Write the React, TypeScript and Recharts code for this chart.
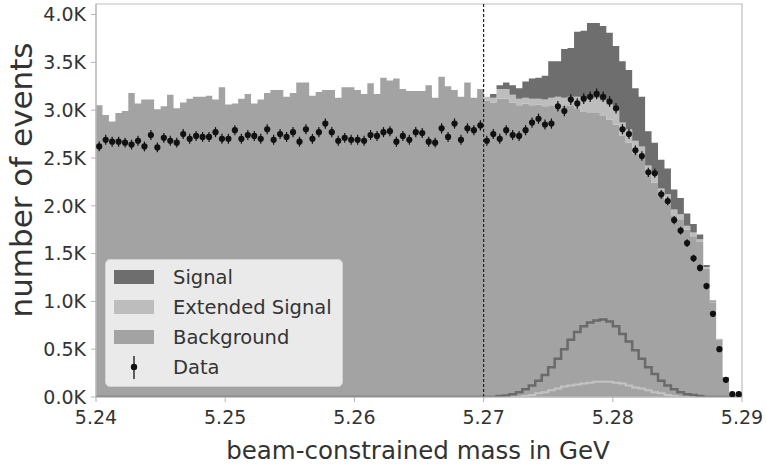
import {
  ComposedChart,
  Area,
  Line,
  Scatter,
  ErrorBar,
  XAxis,
  YAxis,
  ReferenceLine,
  ReferenceArea,
  Legend,
  Label,
} from 'recharts'

// 100 bins of 0.5 MeV from 5.24 to 5.29 GeV
const binStart = 5.24
const binWidth = 0.0005
const xTicks = [5.24, 5.25, 5.26, 5.27, 5.28, 5.29]
const yTicks = [0, 500, 1000, 1500, 2000, 2500, 3000, 3500, 4000]

// stacked MC components (events per bin)
const background = [
  3050, 2950, 2880, 2970, 2990, 3180, 3070, 3110, 3110, 3010,
  3040, 3160, 3020, 3080, 3120, 3140, 3140, 3150, 3110, 3240,
  3060, 3070, 3120, 3170, 3070, 3110, 3180, 3210, 3210, 3140,
  3180, 3290, 3290, 3150, 3190, 3210, 3210, 3130, 3240, 3240,
  3210, 3170, 3280, 3170, 3340, 3310, 3330, 3220, 3200, 3200,
  3200, 3260, 3130, 3350, 3250, 3210, 3140, 3290, 3130, 3220,
  3100, 3080, 3120, 3120, 3080, 3050, 3070, 3050, 3060, 3040,
  3050, 3020, 3050, 3050, 3020, 2980, 2970, 2970, 2940, 2900,
  2850, 2730, 2660, 2550, 2500, 2320, 2240, 2100, 2050, 1900,
  1860, 1750, 1680, 1620, 1340, 990, 600, 210, 30, 20,
]
const extendedSignal = [
  0, 0, 0, 0, 0, 0, 0, 0, 0, 0, 0, 0, 0, 0, 0, 0, 0, 0, 0, 0,
  0, 0, 0, 0, 0, 0, 0, 0, 0, 0, 0, 0, 0, 0, 0, 0, 0, 0, 0, 0,
  0, 0, 0, 0, 0, 0, 0, 0, 0, 0, 0, 0, 0, 0, 0, 0, 0, 0, 0, 0,
  40, 50, 100, 100, 80, 70, 60, 70, 60, 70,
  80, 120, 80, 90, 120, 140, 150, 160, 160, 160,
  150, 140, 140, 130, 120, 100, 90, 80, 70, 60,
  50, 40, 40, 30, 20, 10, 10, 0, 0, 0,
]
const signal = [
  0, 0, 0, 0, 0, 0, 0, 0, 0, 0, 0, 0, 0, 0, 0, 0, 0, 0, 0, 0,
  0, 0, 0, 0, 0, 0, 0, 0, 0, 0, 0, 0, 0, 0, 0, 0, 0, 0, 0, 0,
  0, 0, 0, 0, 0, 0, 0, 0, 0, 0, 0, 0, 0, 0, 0, 0, 0, 0, 0, 0,
  0, 40, 40, 70, 100, 110, 170, 210, 220, 250,
  380, 370, 510, 510, 680, 710, 790, 780, 780, 750,
  670, 640, 620, 550, 520, 360, 330, 300, 270, 210,
  170, 130, 90, 50, 20, 10, 0, 0, 0, 0,
]

// unstacked shapes drawn as step outlines
const signalShape = [
  0, 0, 0, 0, 0, 0, 0, 0, 0, 0, 0, 0, 0, 0, 0, 0, 0, 0, 0, 0,
  0, 0, 0, 0, 0, 0, 0, 0, 0, 0, 0, 0, 0, 0, 0, 0, 0, 0, 0, 0,
  0, 0, 0, 0, 0, 0, 0, 0, 0, 0, 0, 0, 0, 0, 0, 0, 0, 0, 0, 0,
  0, 0, 10, 15, 30, 50, 80, 120, 170, 230,
  310, 400, 500, 600, 680, 740, 780, 800, 810, 790,
  740, 660, 580, 490, 400, 310, 240, 170, 120, 80,
  50, 30, 20, 10, 0, 0, 0, 0, 0, 0,
]
const extendedShape = [
  0, 0, 0, 0, 0, 0, 0, 0, 0, 0, 0, 0, 0, 0, 0, 0, 0, 0, 0, 0,
  0, 0, 0, 0, 0, 0, 0, 0, 0, 0, 0, 0, 0, 0, 0, 0, 0, 0, 0, 0,
  0, 0, 0, 0, 0, 0, 0, 0, 0, 0, 0, 0, 0, 0, 0, 0, 0, 0, 0, 0,
  0, 0, 0, 0, 0, 0, 10, 20, 40, 50,
  70, 90, 110, 120, 130, 140, 150, 160, 160, 160,
  150, 140, 120, 100, 90, 70, 50, 40, 20, 10,
  0, 0, 0, 0, 0, 0, 0, 0, 0, 0,
]

// measured data
const observed = [
  2620, 2690, 2670, 2670, 2660, 2640, 2680, 2620, 2740, 2610,
  2710, 2680, 2660, 2750, 2700, 2730, 2720, 2720, 2770, 2700,
  2700, 2790, 2700, 2740, 2730, 2700, 2800, 2690, 2750, 2720,
  2770, 2670, 2800, 2700, 2770, 2860, 2770, 2680, 2710, 2690,
  2690, 2680, 2740, 2730, 2770, 2780, 2670, 2730, 2690, 2770,
  2760, 2670, 2660, 2810, 2720, 2860, 2690, 2810, 2790, 2840,
  2680, 2750, 2700, 2790, 2740, 2730, 2790, 2870, 2910, 2850,
  2860, 3040, 2990, 3110, 3070, 3120, 3140, 3170, 3140, 3090,
  3020, 2800, 2750, 2580, 2520, 2350, 2340, 2120, 2050, 1850,
  1740, 1610, 1450, 1350, 1160, 870, 500, 180, 30, 30,
]

const legendItems = [
  { name: 'Signal', color: '#6e6e6e' },
  { name: 'Extended Signal', color: '#bdbdbd' },
  { name: 'Background', color: '#a3a3a3' },
  { name: 'Data', color: '#111111' },
]

const edge = (i: number) => Number((binStart + i * binWidth).toFixed(4))

const histRows = background.map((b, i) => ({
  x: edge(i),
  background: b,
  extended: extendedSignal[i],
  signal: signal[i],
  signalShape: signalShape[i],
  extendedShape: extendedShape[i],
}))
// closing edge so the last step reaches 5.29
histRows.push({ ...histRows[histRows.length - 1], x: edge(background.length) })

const dataPoints = observed.map((n, i) => ({
  x: Number((binStart + (i + 0.5) * binWidth).toFixed(5)),
  y: n,
  err: Math.sqrt(n),
}))

const FONT = '"DejaVu Sans", sans-serif'

function LegendBox() {
  return (
    <div
      style={{
        width: 238,
        height: 128,
        boxSizing: 'border-box',
        background: 'rgba(238,238,238,0.95)',
        border: '1px solid #d2d2d2',
        borderRadius: 5,
        paddingTop: 2,
        fontFamily: FONT,
        fontSize: 19.5,
        color: '#333',
      }}
    >
      {legendItems.map(item => (
        <div key={item.name} style={{ display: 'flex', alignItems: 'center', height: 30 }}>
          {item.name === 'Data' ? (
            <svg width={40} height={30} style={{ marginLeft: 8 }}>
              <line x1={20} x2={20} y1={4} y2={27} stroke="#111" strokeWidth={1.3} />
              <circle cx={20} cy={15} r={3.2} fill="#111" />
            </svg>
          ) : (
            <div style={{ marginLeft: 8, width: 40, height: 14, background: item.color }} />
          )}
          <span style={{ marginLeft: 19 }}>{item.name}</span>
        </div>
      ))}
    </div>
  )
}

const renderDot = (props: any) => <circle cx={props.cx} cy={props.cy} r={3.1} fill="#111" />

export default function App() {
  return (
    <div style={{ position: 'absolute', left: 0, top: 0, background: '#fff' }}>
      <ComposedChart
        width={766}
        height={468}
        data={histRows}
        margin={{ top: 4, right: 24, left: 0, bottom: 0 }}
      >
        <XAxis
          dataKey="x"
          type="number"
          domain={[5.24, 5.29]}
          ticks={xTicks}
          tickFormatter={(v: number) => v.toFixed(2)}
          height={71}
          stroke="#b5b5b5"
          tickSize={5}
          tickMargin={9}
          tick={{ fill: '#333', fontSize: 19, fontFamily: FONT }}
          allowDataOverflow
        >
          <Label
            content={() => (
              <text x={418} y={459} textAnchor="middle" fill="#333" fontSize={24.5} fontFamily={FONT}>
                beam-constrained mass in GeV
              </text>
            )}
          />
        </XAxis>
        <YAxis
          type="number"
          domain={[0, 4110]}
          ticks={yTicks}
          tickFormatter={(v: number) => (v / 1000).toFixed(1) + 'K'}
          width={96}
          stroke="#b5b5b5"
          tickSize={5}
          tickMargin={5}
          tick={{ fill: '#333', fontSize: 19, fontFamily: FONT }}
          allowDataOverflow
        >
          <Label
            content={() => (
              <text
                x={32}
                y={180}
                transform="rotate(-90 32 180)"
                textAnchor="middle"
                fill="#333"
                fontSize={31}
                fontFamily={FONT}
              >
                number of events
              </text>
            )}
          />
        </YAxis>
        <Area
          type="stepAfter"
          dataKey="background"
          stackId="mc"
          fill="#a3a3a3"
          fillOpacity={1}
          stroke="none"
          isAnimationActive={false}
        />
        <Area
          type="stepAfter"
          dataKey="extended"
          stackId="mc"
          fill="#bdbdbd"
          fillOpacity={1}
          stroke="none"
          isAnimationActive={false}
        />
        <Area
          type="stepAfter"
          dataKey="signal"
          stackId="mc"
          fill="#6e6e6e"
          fillOpacity={1}
          stroke="none"
          isAnimationActive={false}
        />
        <Line
          type="stepAfter"
          dataKey="extendedShape"
          stroke="#c4c4c4"
          strokeWidth={2}
          dot={false}
          activeDot={false}
          isAnimationActive={false}
        />
        <Line
          type="stepAfter"
          dataKey="signalShape"
          stroke="#6a6a6a"
          strokeWidth={2.5}
          dot={false}
          activeDot={false}
          isAnimationActive={false}
        />
        <ReferenceLine x={5.27} stroke="#222" strokeWidth={1.2} strokeDasharray="3 2" />
        <ReferenceArea
          x1={5.24}
          x2={5.29}
          y1={0}
          y2={4110}
          fill="none"
          fillOpacity={0}
          stroke="#bdbdbd"
          strokeWidth={1.2}
        />
        <Scatter
          data={dataPoints}
          dataKey="y"
          shape={renderDot}
          isAnimationActive={false}
        >
          <ErrorBar dataKey="err" direction="y" width={0} stroke="#111" strokeWidth={1.2} />
        </Scatter>
        <Legend
          layout="vertical"
          align="center"
          verticalAlign="middle"
          content={() => <LegendBox />}
          wrapperStyle={{ left: 105, top: 259, width: 238, height: 128 }}
        />
      </ComposedChart>
    </div>
  )
}
